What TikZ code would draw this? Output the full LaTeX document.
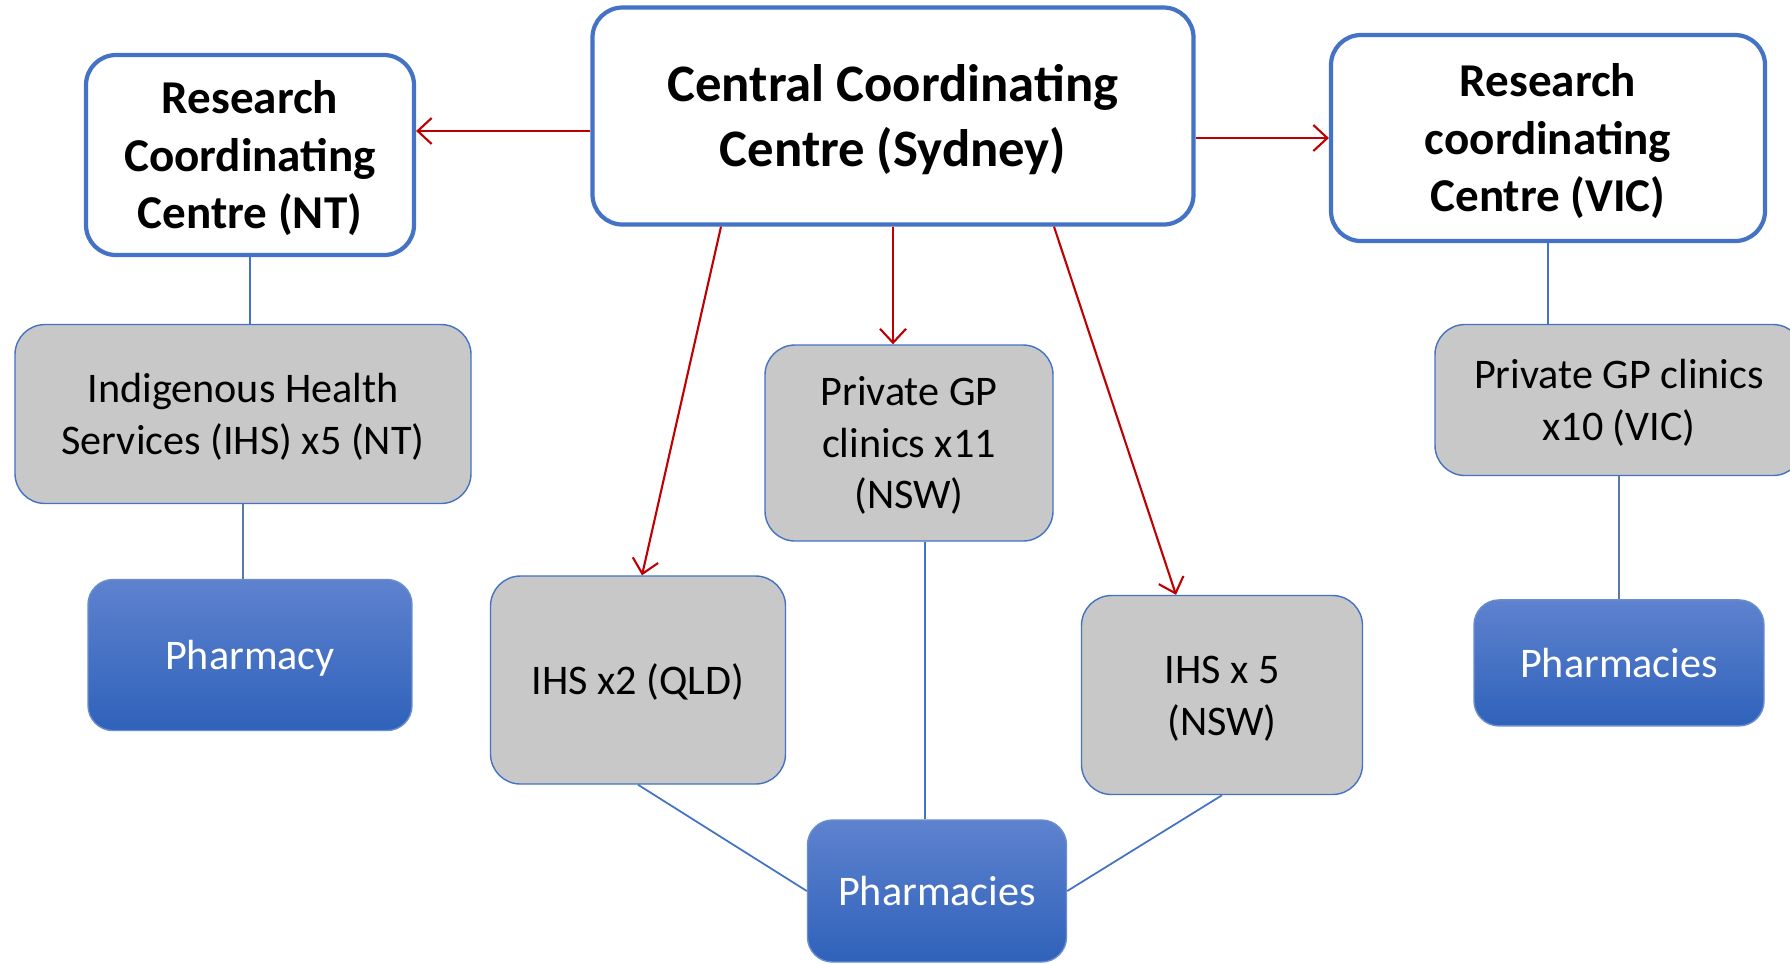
\documentclass[tikz,border=0pt]{standalone}
\usepackage{fontspec}
\setmainfont{Carlito}
\usetikzlibrary{arrows.meta,positioning,calc}
\definecolor{boxblue}{RGB}{68,114,196}
\definecolor{boxgray}{RGB}{200,200,200}
\definecolor{arrred}{RGB}{192,0,0}
\definecolor{phtop}{RGB}{94,130,206}
\definecolor{phbot}{RGB}{47,98,186}
\tikzset{
  ctrblk/.style={draw=boxblue,line width=1.2pt,fill=white,rounded corners=3mm,align=center,inner sep=0pt},
  siteblk/.style={draw=boxblue,line width=0.4pt,fill=boxgray,rounded corners=3mm,align=center,inner sep=0pt,font=\fontsize{12}{14.65}\selectfont},
  pharmblk/.style={draw=boxblue!80,line width=0.4pt,top color=phtop,bottom color=phbot,rounded corners=2.5mm,text=white,align=center,inner sep=0pt,font=\fontsize{12}{14.65}\selectfont},
  % line boxes as Word sets them (ascent .952em, descent .269em)
  oneln/.style={text height=11.4pt,text depth=3.2pt},
  twoln/.style={text height=26.1pt,text depth=3.2pt},
  threeln/.style={text height=40.7pt,text depth=3.2pt},
  arr/.style={-{Straight Barb[length=1.4mm,width=2.6mm]},arrred,line width=0.6pt},
  lnk/.style={boxblue,line width=0.5pt},
  glnk/.style={boxblue!60!gray,line width=0.5pt}
}

\begin{document}
\begin{tikzpicture}
  \useasboundingbox (0,0) rectangle (17.90,-9.63);

  % coordinating centres
  \node[ctrblk,minimum width=60.1mm,minimum height=21.7mm,text height=32.6pt,text depth=4pt,font=\bfseries\fontsize{15}{18.3}\selectfont] (central) at (8.93,-1.16) {Central Coordinating\\Centre (Sydney)};
  \node[ctrblk,minimum width=32.8mm,minimum height=20.0mm,text height=45.5pt,text depth=3.6pt,font=\bfseries\fontsize{13.4}{16.36}\selectfont] (nt) at (2.50,-1.55) {Research\\Coordinating\\Centre (NT)};
  \node[ctrblk,minimum width=43.4mm,minimum height=20.6mm,text height=45.5pt,text depth=3.6pt,font=\bfseries\fontsize{13.4}{16.36}\selectfont] (vic) at (15.48,-1.38) {Research\\coordinating\\Centre (VIC)};

  % sites
  \node[siteblk,twoln,minimum width=45.6mm,minimum height=17.9mm] (ihsnt) at (2.43,-4.14) {Indigenous Health\\Services (IHS) x5 (NT)};
  \node[siteblk,threeln,minimum width=28.8mm,minimum height=19.6mm] (gpnsw) at (9.09,-4.43) {Private GP\\clinics x11\\(NSW)};
  \node[siteblk,oneln,minimum width=29.5mm,minimum height=20.8mm] (qld) at (6.38,-6.80) {IHS x2 (QLD)};
  \node[siteblk,twoln,minimum width=28.1mm,minimum height=19.9mm] (ihsnsw) at (12.22,-6.95) {IHS x 5\\(NSW)};
  \node[siteblk,twoln,minimum width=36.8mm,minimum height=15.1mm] (gpvic) at (16.19,-4.00) {Private GP clinics\\x10 (VIC)};

  % pharmacies
  \node[pharmblk,oneln,minimum width=32.4mm,minimum height=15.1mm] (pharm) at (2.50,-6.55) {Pharmacy};
  \node[pharmblk,oneln,minimum width=25.9mm,minimum height=14.2mm] (pharms) at (9.37,-8.91) {Pharmacies};
  \node[pharmblk,oneln,minimum width=29.0mm,minimum height=12.6mm,below=12.3mm of gpvic] (phvic) {Pharmacies};

  \draw[arr] ([yshift=-1.5mm]central.west) -- ([yshift=-1.5mm]central.west -| nt.east);
  \draw[arr] (central.east |- vic.west) -- (vic.west);
  \draw[arr] ([xshift=-17.2mm]central.south) -- ([xshift=0.4mm]qld.north);
  \draw[arr] (central.south) -- (central.south |- gpnsw.north);
  \draw[arr] ([xshift=16.1mm]central.south) -- ([xshift=-4.6mm]ihsnsw.north);

  \draw[lnk] (nt.south) -- (nt.south |- ihsnt.north);
  \draw[glnk] (ihsnt.south) -- (ihsnt.south |- pharm.north);
  \draw[lnk] (vic.south) -- (vic.south |- gpvic.north);
  \draw[glnk] (gpvic.south) -- (phvic.north);
  \draw[lnk] ([xshift=1.6mm]gpnsw.south) -- ([xshift=1.6mm]gpnsw.south |- pharms.north);
  \draw[lnk] (qld.south) -- (pharms.west);
  \draw[lnk] (ihsnsw.south) -- (pharms.east);
\end{tikzpicture}
\end{document}
